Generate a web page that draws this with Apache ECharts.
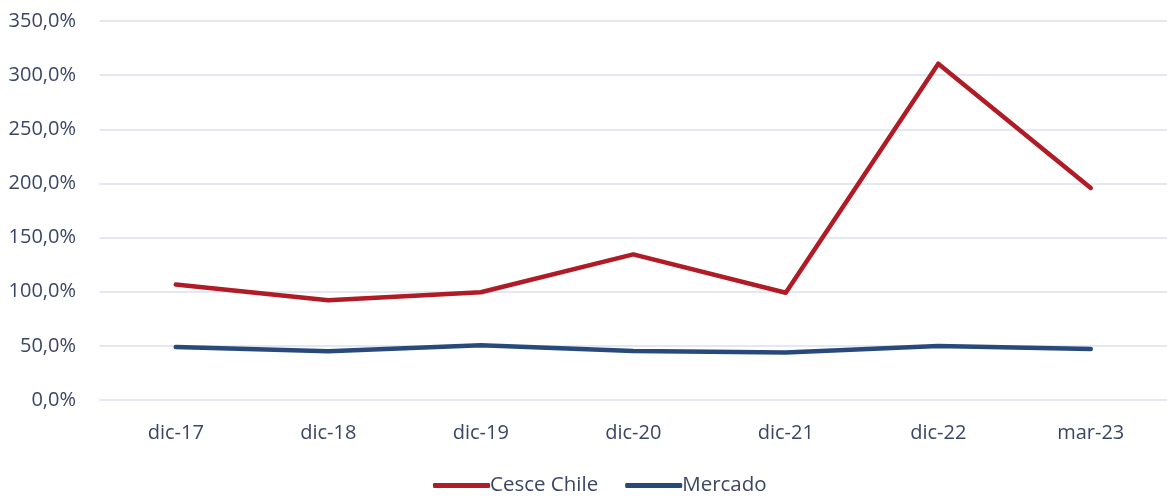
<!DOCTYPE html>
<html>
<head>
<meta charset="utf-8">
<script src="https://cdn.jsdelivr.net/npm/echarts@6/dist/echarts.min.js"></script>
<style>html,body{margin:0;padding:0;background:#fff}#c{width:1167px;height:496px}</style>
</head>
<body>
<div id="c"></div>
<script>
const categories = ['dic-17','dic-18','dic-19','dic-20','dic-21','dic-22','mar-23'];
const cesceChile = [106.6, 92.1, 99.5, 134.5, 99.0, 310.6, 195.8];
const mercado = [49.0, 45.0, 50.5, 45.3, 43.8, 49.9, 47.1];
const seriesNames = ['Cesce Chile', 'Mercado'];
const colors = ['#B01B25', '#284A7B'];

const font = '"Open Sans", "Noto Sans", sans-serif';
const txt = '#3B4663';
const chart = echarts.init(document.getElementById('c'), null, {renderer: 'canvas'});
chart.setOption({
  animation: false,
  textStyle: {fontFamily: font},
  grid: {left: 99.5, right: 0, top: 21, bottom: 96, containLabel: false},
  legend: {
    bottom: 0,
    left: 433,
    padding: 0,
    icon: 'roundRect',
    itemWidth: 57,
    itemHeight: 5,
    itemGap: 27,
    textStyle: {fontFamily: font, fontSize: 20.5, color: txt, padding: [0, 0, 0, -5]},
    data: seriesNames.map((n, i) => ({name: n, itemStyle: {color: colors[i]}}))
  },
  xAxis: {
    type: 'category',
    data: categories,
    boundaryGap: true,
    axisLine: {show: false},
    axisTick: {show: false},
    axisLabel: {fontFamily: font, fontSize: 20, color: txt, margin: 23}
  },
  yAxis: {
    type: 'value',
    min: 0, max: 350, interval: 50,
    axisLine: {show: false},
    axisTick: {show: false},
    splitLine: {lineStyle: {color: '#DCDFEE', width: 1.5}},
    axisLabel: {
      fontFamily: font, fontSize: 20, color: txt, margin: 23.5,
      formatter: v => v.toFixed(1).replace('.', ',') + '%'
    }
  },
  series: [
    {name: seriesNames[0], type: 'line', data: cesceChile, symbol: 'none',
     lineStyle: {color: colors[0], width: 4.5, cap: 'round', join: 'round'}, itemStyle: {color: colors[0]}},
    {name: seriesNames[1], type: 'line', data: mercado, symbol: 'none',
     lineStyle: {color: colors[1], width: 4.5, cap: 'round', join: 'round'}, itemStyle: {color: colors[1]}}
  ]
});
</script>
</body>
</html>
